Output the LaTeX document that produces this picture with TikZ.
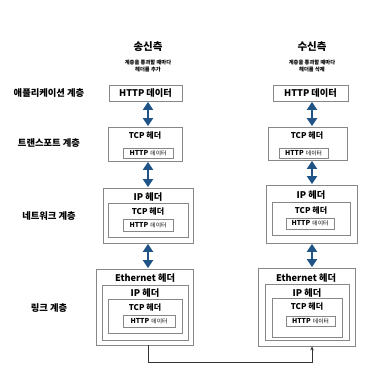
\documentclass[tikz,border=0pt]{standalone}
\usepackage{fontspec}
\setmainfont{Noto Sans CJK KR}
\usetikzlibrary{arrows.meta,fit}
\definecolor{arrblue}{RGB}{32,84,134}
\definecolor{boxgray}{RGB}{135,135,135}
\tikzset{
  box/.style={draw=boxgray, line width=0.8pt, inner sep=0pt, fill=white},
  dbl/.style={arrblue, line width=2.8pt, {Triangle[width=10pt,length=8pt]}-{Triangle[width=10pt,length=8pt]}, shorten <=0.5pt, shorten >=0.5pt},
  ttl/.style={font=\fontsize{10.5}{12}\selectfont\bfseries},
  sub/.style={font=\fontsize{5.3}{6.8}\selectfont\bfseries, align=center},
  lay/.style={font=\fontsize{9.3}{11}\selectfont\bfseries},
  big/.style={font=\fontsize{9.2}{10}\selectfont\bfseries, inner sep=0pt},
  mid/.style={font=\fontsize{8}{9}\selectfont\bfseries, inner sep=0pt},
  sml/.style={inner sep=0pt},
  link/.style={draw=black!80, line width=0.8pt}
}
\newcommand{\httpsmall}{{\fontsize{6.8}{7}\selectfont\bfseries HTTP} {\fontsize{5.8}{7}\selectfont 데이터}}
\begin{document}
\begin{tikzpicture}[x=1pt,y=-1pt]
\useasboundingbox (0,0) rectangle (385,377);
% titles
\node[ttl] (tL) at (148,47) {송신측};
\node[sub] (sL) at (148,66) {계층을 통과할 때마다\\헤더를 추가};
\node[ttl] (tR) at (312,47) {수신측};
\node[sub] (sR) at (312,66) {계층을 통과할 때마다\\헤더를 삭제};
% layer labels
\node[lay] (l1) at (49,93) {애플리케이션 계층};
\node[lay] (l2) at (49,143) {트랜스포트 계층};
\node[lay] (l3) at (49,216) {네트워크 계층};
\node[lay] (l4) at (49,308) {링크 계층};

% ---------- left column ----------
\node[box, fit={(109,85) (182,101)}] (aL) {};
\node[big] at (aL.center) {HTTP 데이터};

\node[box, fit={(108,127) (182,161)}] (tpL) {};
\node[mid] at (145,136) {TCP 헤더};
\node[box, fit={(123,148) (173,158)}] (tpLh) {};
\node[sml] at (tpLh.center) {\httpsmall};

\node[box, fit={(103,188) (193,243)}] (nL) {};
\node[big] at (148,197) {IP 헤더};
\node[box, fit={(108,203) (188,237)}] (nLt) {};
\node[mid] at (148,212) {TCP 헤더};
\node[box, fit={(123,219) (173,231)}] (nLh) {};
\node[sml] at (nLh.center) {\httpsmall};

\node[box, fit={(96,269) (193,345)}] (eL) {};
\node[big] at (145,278) {Ethernet 헤더};
\node[box, fit={(102,285) (188,340)}] (eLi) {};
\node[big] at (145,293) {IP 헤더};
\node[box, fit={(108,299) (182,333)}] (eLt) {};
\node[mid] at (145,308) {TCP 헤더};
\node[box, fit={(123,315) (175,327)}] (eLh) {};
\node[sml] at (eLh.center) {\httpsmall};

% ---------- right column ----------
\node[box, fit={(273,85) (348,101)}] (aR) {};
\node[big] at (aR.center) {HTTP 데이터};

\node[box, fit={(268,127) (347,160)}] (tpR) {};
\node[mid] at (307,136) {TCP 헤더};
\node[box, fit={(279,148) (328,158)}] (tpRh) {};
\node[sml] at (tpRh.center) {\httpsmall};

\node[box, fit={(266,185) (357,243)}] (nR) {};
\node[big] at (311,195) {IP 헤더};
\node[box, fit={(272,202) (350,235)}] (nRt) {};
\node[mid] at (311,211) {TCP 헤더};
\node[box, fit={(286,218) (334,229)}] (nRh) {};
\node[sml] at (nRh.center) {\httpsmall};

\node[box, fit={(258,268) (355,346)}] (eR) {};
\node[big] at (306,278) {Ethernet 헤더};
\node[box, fit={(265,284) (349,340)}] (eRi) {};
\node[big] at (307,293) {IP 헤더};
\node[box, fit={(272,298) (342,337)}] (eRt) {};
\node[mid] at (307,307) {TCP 헤더};
\node[box, fit={(286,316) (335,326)}] (eRh) {};
\node[sml] at (eRh.center) {\httpsmall};

% ---------- blue double arrows ----------
\draw[dbl] (aL.south -| 148,0) -- (tpL.north -| 148,0);
\draw[dbl] (tpL.south -| 148,0) -- (nL.north -| 148,0);
\draw[dbl] (nL.south -| 148,0) -- (eL.north -| 148,0);
\draw[dbl] (aR.south -| 312,0) -- (tpR.north -| 312,0);
\draw[dbl] (tpR.south -| 312,0) -- (nR.north -| 312,0);
\draw[dbl] (nR.south -| 312,0) -- (eR.north -| 312,0);

% ---------- physical link ----------
\coordinate (c1) at (148,362);
\coordinate (c2) at (312,362);
\draw[link, -{Stealth[length=4pt,width=3.5pt]}] (eL.south -| c1) -- (c1) -- (c2) -- (eR.south -| c2);
\end{tikzpicture}
\end{document}
